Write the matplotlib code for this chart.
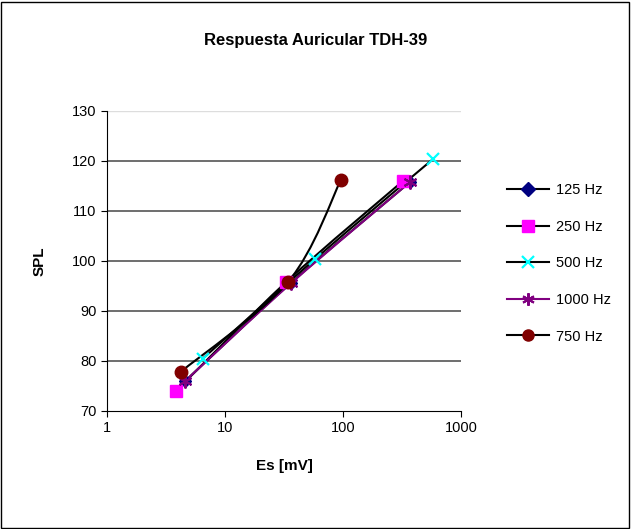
import matplotlib
matplotlib.use('Agg')
import matplotlib.pyplot as plt
from matplotlib.path import Path
from matplotlib.patches import PathPatch, Rectangle
from matplotlib.lines import Line2D
import numpy as np

plt.rcParams['font.family'] = ['Liberation Sans', 'DejaVu Sans']

# Data (Es in mV, SPL in dB)
es_125 = [4.6, 36.5, 370]
spl_125 = [76, 95.7, 115.8]

es_250 = [3.85, 33, 322]
spl_250 = [74, 95.8, 116]

es_500 = [6.5, 58, 580]
spl_500 = [80.5, 100.4, 120.4]

es_1000 = [4.6, 36.5, 370]
spl_1000 = [76, 95.6, 115.8]

es_750 = [4.2, 34.2, 96]
spl_750 = [77.8, 95.8, 116.2]

labels = ['125 Hz', '250 Hz', '500 Hz', '1000 Hz', '750 Hz']
y_grid = [80, 90, 100, 110, 120]


def smooth_path(xs, ys):
    # Excel-style smoothed line: Bezier through the points, built in log-x space
    p = np.column_stack([np.log10(xs), ys])
    n = len(p)
    verts = [p[0]]
    codes = [Path.MOVETO]
    for i in range(n - 1):
        p0 = p[i - 1] if i > 0 else p[i]
        p3 = p[i + 2] if i + 2 < n else p[i + 1]
        c1 = p[i] + (p[i + 1] - p0) / 6
        c2 = p[i + 1] - (p3 - p[i]) / 6
        verts += [c1, c2, p[i + 1]]
        codes += [Path.CURVE4] * 3
    verts = np.array(verts)
    verts[:, 0] = 10 ** verts[:, 0]
    return Path(verts, codes)


fig = plt.figure(figsize=(6.31, 5.29), dpi=100)
ax = fig.add_axes([107 / 631, 1 - 411 / 529, (461 - 107) / 631, (411 - 111) / 529])

series = [
    (es_125, spl_125, 'black', dict(marker='D', color='#000080', ms=6)),
    (es_250, spl_250, 'black', dict(marker='s', color='#ff00ff', ms=9)),
    (es_500, spl_500, 'black', dict(marker='x', color='#00ffff', ms=9, mew=1.6)),
    (es_1000, spl_1000, '#800080', dict(marker=(6, 2, 0), color='#800080', ms=10, mew=1.5)),
    (es_750, spl_750, 'black', dict(marker='o', color='#800000', ms=9)),
]

handles = []
for (xs, ys, lc, mk), lab in zip(series, labels):
    ax.add_patch(PathPatch(smooth_path(xs, ys), facecolor='none', edgecolor=lc, lw=1.5, zorder=3))
    ax.plot(xs, ys, linestyle='none', marker=mk['marker'], color=mk['color'],
            markersize=mk['ms'], mew=mk.get('mew', 1), zorder=4)
    handles.append(Line2D([], [], color=lc, lw=1.5, marker=mk['marker'],
                          markerfacecolor=mk['color'], markeredgecolor=mk['color'],
                          markersize=max(mk['ms'] - 1, 7), mew=mk.get('mew', 1), label=lab))

ax.set_xscale('log')
ax.set_xlim(1, 1000)
ax.set_ylim(70, 130)
ax.set_yticks(range(70, 131, 10))
ax.set_xticks([1, 10, 100, 1000])
ax.set_xticklabels(['1', '10', '100', '1000'])
ax.minorticks_off()
ax.tick_params(labelsize=10.5, length=4, direction='out', colors='black')
for g in y_grid:
    ax.axhline(g, color='#555555', lw=1.2, zorder=1)
ax.axhline(130, color='#dddddd', lw=1, zorder=1)
for s in ['top', 'right']:
    ax.spines[s].set_visible(False)
ax.spines['left'].set_color('black')
ax.spines['bottom'].set_color('black')

ax.set_xlabel('Es [mV]', fontsize=11, fontweight='bold', labelpad=17)
ax.set_ylabel('SPL', fontsize=11, fontweight='bold', labelpad=18)

fig.text(316 / 631, 1 - 40 / 529, 'Respuesta Auricular TDH-39', ha='center', va='center',
         fontsize=12, fontweight='bold')

fig.legend(handles=handles, loc='upper left', bbox_to_anchor=(494 / 631, 1 - 170 / 529),
           frameon=False, fontsize=10.5, handlelength=2.9, labelspacing=1.55,
           handletextpad=0.45)

fig.patches.append(Rectangle((1 / 631, 1 / 529), 628 / 631, 526 / 529, transform=fig.transFigure,
                             fill=False, edgecolor='black', lw=1))

fig.savefig('out.png', dpi=100)
